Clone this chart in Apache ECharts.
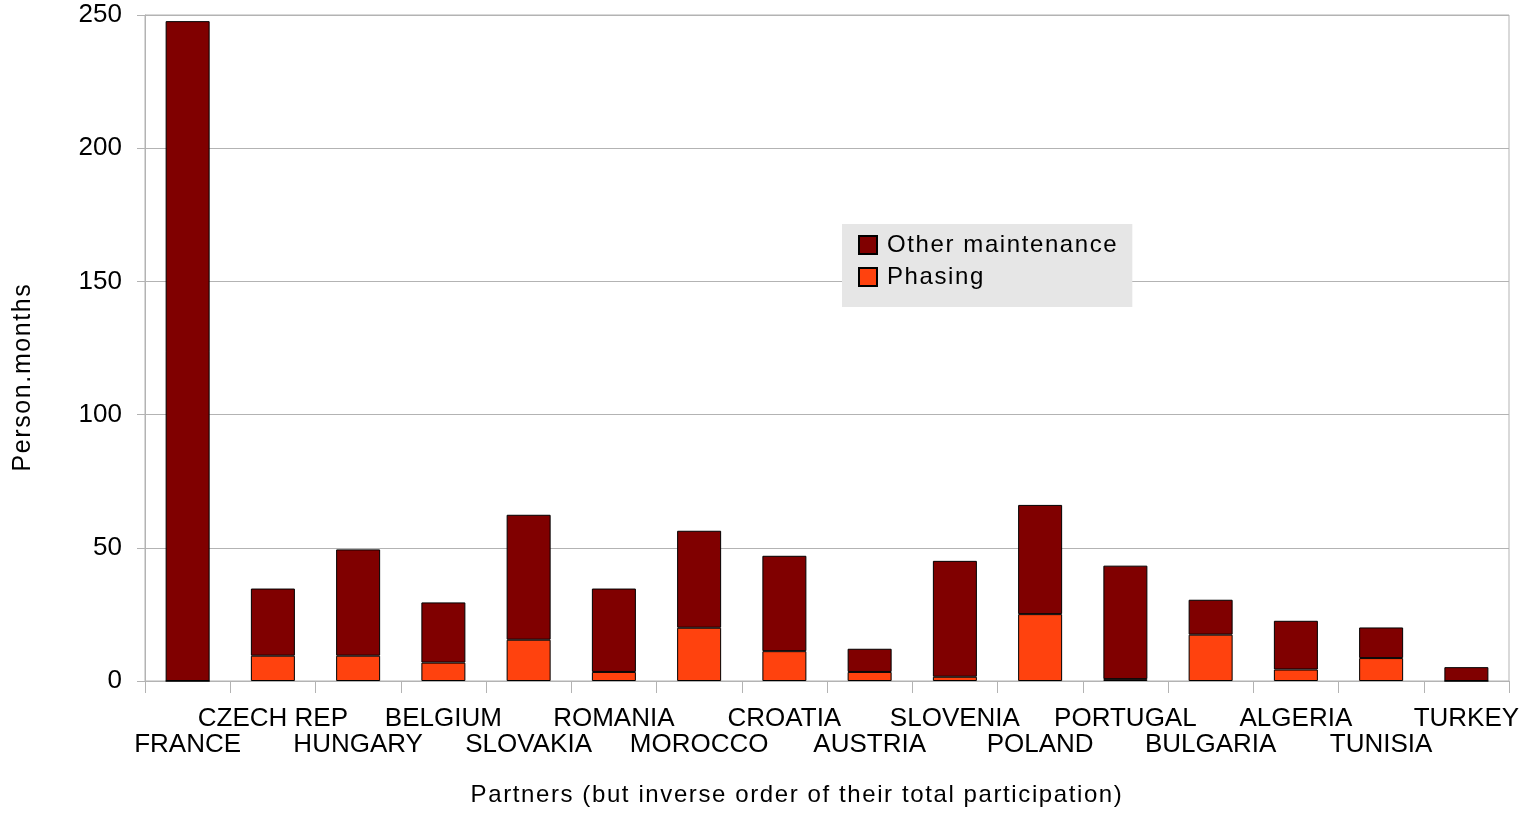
<!DOCTYPE html>
<html>
<head>
<meta charset="utf-8">
<script src="https://cdn.jsdelivr.net/npm/echarts@6/dist/echarts.min.js"></script>
<style>html,body{margin:0;padding:0;background:#fff;}#chart{width:1526px;height:813px;}</style>
</head>
<body>
<div id="chart"></div>
<script>
const categories = ["FRANCE","CZECH REP","HUNGARY","BELGIUM","SLOVAKIA","ROMANIA","MOROCCO","CROATIA","AUSTRIA","SLOVENIA","POLAND","PORTUGAL","BULGARIA","ALGERIA","TUNISIA","TURKEY"];
const phasing = [0, 9.5, 9.5, 6.9, 15.5, 3.4, 20, 11.2, 3.4, 1.6, 25.1, 0.7, 17.4, 4.3, 8.6, 0];
const otherMaintenance = [247.7, 25.2, 39.9, 22.6, 46.9, 31.3, 36.4, 35.8, 8.7, 43.5, 41.0, 42.6, 13.1, 18.3, 11.5, 5.2];
const yTicks = [0, 50, 100, 150, 200, 250];

// wider letter spacing for the titles and legend (marked by a fallback family name)
(function () {
  const P = CanvasRenderingContext2D.prototype;
  const of = P.fillText, om = P.measureText;
  function ls(ctx) {
    if (!('letterSpacing' in ctx)) return;
    ctx.letterSpacing = /spacedwide/.test(ctx.font) ? '1.6px' : '0px';
  }
  P.fillText = function () { ls(this); return of.apply(this, arguments); };
  P.measureText = function () { ls(this); return om.apply(this, arguments); };
})();

const FONT = 'Liberation Sans';
const FONT_SP = '"Liberation Sans", spacedwide';
const chart = echarts.init(document.getElementById('chart'));
chart.setOption({
  animation: false,
  backgroundColor: '#ffffff',
  grid: { left: 145, right: 17, top: 15, bottom: 132, show: true, borderColor: '#b3b3b3', borderWidth: 1 },
  legend: {
    orient: 'vertical',
    left: 842, top: 224,
    data: ['Other maintenance', 'Phasing'],
    backgroundColor: '#e6e6e6',
    padding: [5, 14, 14, 16],
    itemWidth: 18, itemHeight: 18, itemGap: 0,
    icon: 'rect',
    textStyle: { fontFamily: FONT_SP, fontSize: 24, color: '#000', lineHeight: 32, padding: [0, 0, 0, 5] }
  },
  xAxis: {
    type: 'category',
    data: categories,
    axisLine: { lineStyle: { color: '#b3b3b3' } },
    axisTick: { show: true, length: 12, lineStyle: { color: '#b3b3b3' } },
    axisLabel: {
      interval: 0,
      fontFamily: FONT, fontSize: 26, color: '#000',
      margin: 25, lineHeight: 26,
      formatter: function (v, i) { return i % 2 === 0 ? '\n' + v : v + '\n'; }
    }
  },
  yAxis: {
    type: 'value',
    min: yTicks[0], max: yTicks[yTicks.length - 1], interval: 50,
    axisLine: { show: true, lineStyle: { color: '#b3b3b3' } },
    axisTick: { show: true, length: 8, lineStyle: { color: '#b3b3b3' } },
    splitLine: { lineStyle: { color: '#b3b3b3' } },
    axisLabel: { fontFamily: FONT, fontSize: 26, color: '#000', margin: 23 }
  },
  graphic: [
    { type: 'text', x: 23, y: 377, rotation: Math.PI / 2,
      style: { text: 'Person.months', fontFamily: FONT_SP, fontSize: 25, fill: '#000',
               textAlign: 'center', textVerticalAlign: 'middle' } },
    { type: 'text', x: 797, y: 795,
      style: { text: 'Partners (but inverse order of their total participation)', fontFamily: FONT_SP, fontSize: 24, fill: '#000',
               textAlign: 'center', textVerticalAlign: 'middle' } }
  ],
  series: [
    { name: 'Phasing', type: 'bar', stack: 'total', data: phasing, barWidth: 44,
      itemStyle: { color: '#ff420e', borderColor: '#000', borderWidth: 1 } },
    { name: 'Other maintenance', type: 'bar', stack: 'total', data: otherMaintenance, barWidth: 44,
      itemStyle: { color: '#800000', borderColor: '#000', borderWidth: 1 } }
  ]
});
</script>
</body>
</html>
